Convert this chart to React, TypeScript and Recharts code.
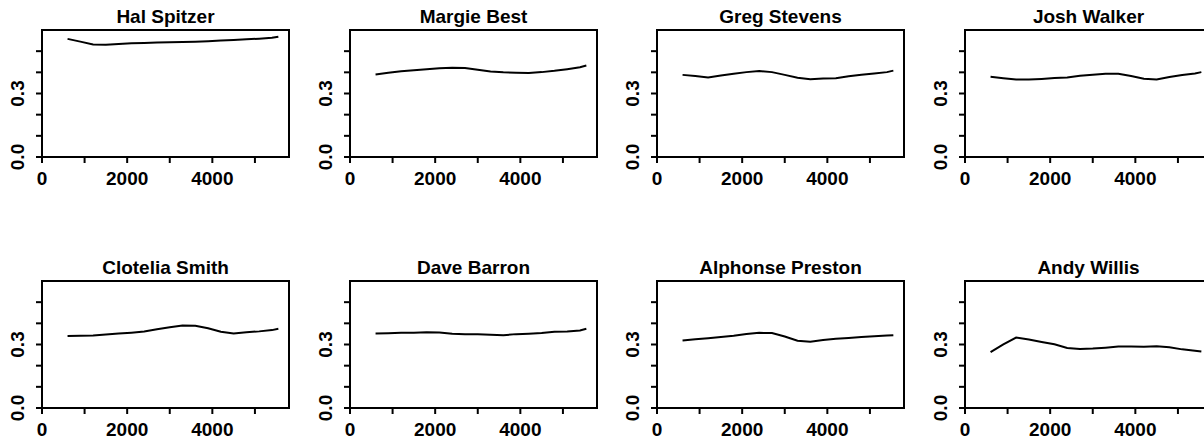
import { Line, LineChart, XAxis, YAxis } from "recharts";

// shared x positions (sample points along each curve)
const xs = [600, 900, 1200, 1500, 1800, 2100, 2400, 2700, 3000, 3300, 3600, 3900, 4200, 4500, 4800, 5100, 5400, 5550];

const halSpitzer = [0.558, 0.545, 0.532, 0.53, 0.534, 0.537, 0.539, 0.541, 0.542, 0.543, 0.545, 0.547, 0.55, 0.553, 0.556, 0.559, 0.563, 0.568];
const margieBest = [0.39, 0.398, 0.405, 0.41, 0.415, 0.419, 0.422, 0.421, 0.412, 0.404, 0.4, 0.398, 0.397, 0.401, 0.407, 0.415, 0.424, 0.432];
const gregStevens = [0.388, 0.383, 0.376, 0.385, 0.393, 0.401, 0.406, 0.401, 0.388, 0.374, 0.367, 0.371, 0.372, 0.382, 0.389, 0.395, 0.401, 0.408];
const joshWalker = [0.379, 0.372, 0.366, 0.366, 0.369, 0.373, 0.376, 0.384, 0.389, 0.393, 0.393, 0.383, 0.37, 0.366, 0.378, 0.387, 0.395, 0.401];
const cloteliaSmith = [0.34, 0.341, 0.343, 0.347, 0.352, 0.356, 0.361, 0.372, 0.381, 0.39, 0.389, 0.377, 0.36, 0.352, 0.358, 0.362, 0.368, 0.374];
const daveBarron = [0.352, 0.353, 0.355, 0.356, 0.358, 0.357, 0.351, 0.349, 0.348, 0.346, 0.344, 0.349, 0.351, 0.354, 0.36, 0.362, 0.366, 0.374];
const alphonsePreston = [0.319, 0.325, 0.33, 0.335, 0.341, 0.35, 0.355, 0.354, 0.338, 0.318, 0.313, 0.321, 0.327, 0.331, 0.336, 0.339, 0.342, 0.344];
const andyWillis = [0.264, 0.301, 0.333, 0.324, 0.312, 0.301, 0.284, 0.279, 0.281, 0.285, 0.29, 0.29, 0.289, 0.292, 0.287, 0.277, 0.271, 0.267];

const names = ["Hal Spitzer", "Margie Best", "Greg Stevens", "Josh Walker", "Clotelia Smith", "Dave Barron", "Alphonse Preston", "Andy Willis"];
const series = [halSpitzer, margieBest, gregStevens, joshWalker, cloteliaSmith, daveBarron, alphonsePreston, andyWillis];

const xTicks = [0, 1000, 2000, 3000, 4000, 5000];
const yTicks = [0, 0.1, 0.2, 0.3, 0.4, 0.5];
const xLabels = ["0", "", "2000", "", "4000", ""];
const yLabels = ["0.0", "", "", "0.3", "", ""];

const FONT = "'Liberation Sans', Arial, sans-serif";
const frame = { stroke: "#000", strokeWidth: 2 };

// plot box inside each 300x200 chart
const PLOT = { left: 41, top: 30, width: 247, height: 127 };

function XTick(props: any) {
  const { x, y, index } = props;
  const label = xLabels[index];
  if (!label) return null;
  return (
    <text x={x} y={y} dy="0.71em" textAnchor="middle" fill="#000" fontSize={19} fontWeight="bold" fontFamily={FONT}>
      {label}
    </text>
  );
}

function YTick(props: any) {
  const { x, y, index } = props;
  const label = yLabels[index];
  if (!label) return null;
  return (
    <text
      x={x}
      y={y}
      transform={`rotate(-90 ${x} ${y})`}
      textAnchor="middle"
      fill="#000"
      fontSize={19}
      fontWeight="bold"
      fontFamily={FONT}
    >
      {label}
    </text>
  );
}

function Panel({ name, values, left, top }: { name: string; values: number[]; left: number; top: number }) {
  const data = xs.map((x, i) => ({ x, y: values[i] }));
  return (
    <div style={{ position: "absolute", left, top, width: 300, height: 200 }}>
      <LineChart
        width={300}
        height={200}
        data={data}
        margin={{ top: PLOT.top, right: 300 - PLOT.left - PLOT.width, bottom: 13, left: PLOT.left - 30 }}
      >
        <XAxis
          dataKey="x"
          type="number"
          domain={[0, 5800]}
          allowDataOverflow
          ticks={xTicks}
          interval={0}
          height={30}
          axisLine={frame}
          tickLine={frame}
          tickSize={6}
          tickMargin={9}
          tick={<XTick />}
        />
        <YAxis
          type="number"
          domain={[0, 0.6]}
          allowDataOverflow
          ticks={yTicks}
          interval={0}
          width={30}
          axisLine={frame}
          tickLine={frame}
          tickSize={6}
          tickMargin={12}
          tick={<YTick />}
        />
        <Line dataKey="y" type="linear" stroke="#000" strokeWidth={2} dot={false} isAnimationActive={false} />
      </LineChart>
      {/* panel frame */}
      <div
        style={{
          position: "absolute",
          left: PLOT.left - 1,
          top: PLOT.top - 1,
          width: PLOT.width + 2,
          height: PLOT.height + 2,
          border: "2px solid #000",
          boxSizing: "border-box",
          pointerEvents: "none"
        }}
      />
      <div
        style={{
          position: "absolute",
          left: PLOT.left,
          top: 7,
          width: PLOT.width,
          textAlign: "center",
          fontFamily: FONT,
          fontWeight: "bold",
          fontSize: 19,
          lineHeight: "19px",
          whiteSpace: "nowrap"
        }}
      >
        {name}
      </div>
    </div>
  );
}

export default function App() {
  return (
    <div style={{ position: "absolute", left: 0, top: 0, width: 1204, height: 439, overflow: "hidden", background: "#fff" }}>
      {names.map((name, i) => (
        <Panel
          key={name}
          name={name}
          values={series[i]}
          left={Math.round((i % 4) * 307.7) + 1}
          top={Math.floor(i / 4) * 251}
        />
      ))}
    </div>
  );
}
